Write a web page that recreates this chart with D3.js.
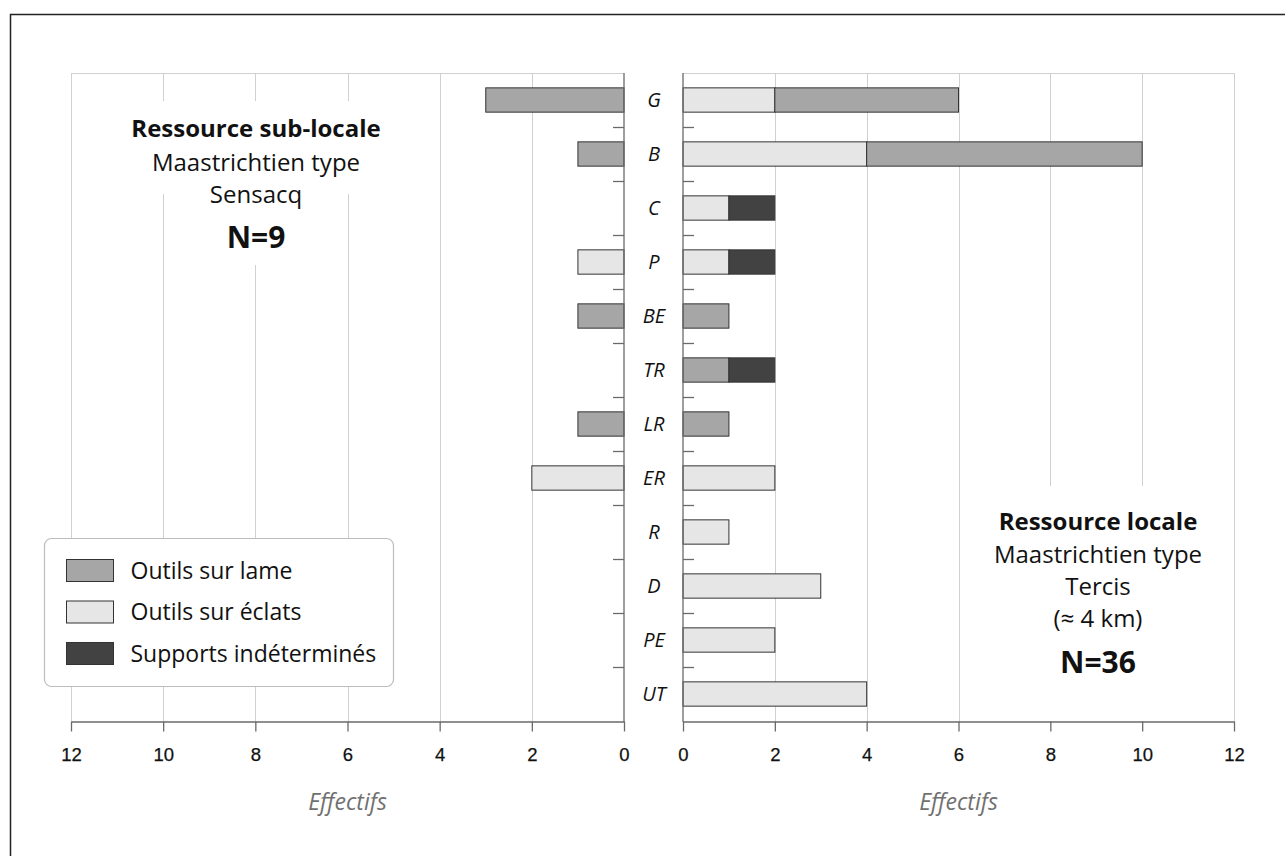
<!DOCTYPE html>
<html><head><meta charset="utf-8">
<script src="https://cdn.jsdelivr.net/npm/d3@7"></script>
<style>body{margin:0;background:#fff} svg{display:block}</style>
</head><body>
<svg id="chart" width="1285" height="856"></svg>
<script>
// ---------- DATA ----------
const categories = ["G","B","C","P","BE","TR","LR","ER","R","D","PE","UT"];
const seriesKeys = ["eclats","lame","indet"];
const seriesNames = {lame:"Outils sur lame", eclats:"Outils sur éclats", indet:"Supports indéterminés"};
const legendOrder = ["lame","eclats","indet"];
const seriesColors = {lame:"#a6a6a6", eclats:"#e6e6e6", indet:"#424242"};
// Left panel : Sensacq (sub-locale)
const leftLame   = [3,1,0,0,1,0,1,0,0,0,0,0];
const leftEclats = [0,0,0,1,0,0,0,2,0,0,0,0];
const leftIndet  = [0,0,0,0,0,0,0,0,0,0,0,0];
// Right panel : Tercis (locale)
const rightEclats = [2,4,1,1,0,0,0,2,1,3,2,4];
const rightLame   = [4,6,0,0,1,1,1,0,0,0,0,0];
const rightIndet  = [0,0,1,1,0,1,0,0,0,0,0,0];
const xTicks = [0,2,4,6,8,10,12];
const leftTitle  = ["Ressource sub-locale","Maastrichtien type","Sensacq","N=9"];
const rightTitle = ["Ressource locale","Maastrichtien type","Tercis","(≈ 4 km)","N=36"];
const axisLabel = "Effectifs";

// ---------- LAYOUT ----------
const svg = d3.select("#chart");
const W = 1285, H = 856;
const plotTop = 73, plotBottom = 721;
const font = "'Open Sans', 'Noto Sans', sans-serif";
const gridColor = "#d0d0d0", axisColor = "#6a6a6a";

const y = d3.scaleBand().domain(categories).range([plotTop, plotBottom]).paddingInner(0.55).paddingOuter(0.275);
const xL = d3.scaleLinear().domain([0,12]).range([624,71]);
const xR = d3.scaleLinear().domain([0,12]).range([683,1234]);

function rows(e,l,ind){ return categories.map((c,i)=>({cat:c, eclats:e[i], lame:l[i], indet:ind[i]})); }
const stack = d3.stack().keys(seriesKeys);
const leftStack = stack(rows(leftEclats,leftLame,leftIndet));
const rightStack = stack(rows(rightEclats,rightLame,rightIndet));

svg.append("rect").attr("width",W).attr("height",H).attr("fill","#fff");
// frame
svg.append("path").attr("d",`M10.5,${H} V14.5 H${W}`).attr("fill","none").attr("stroke","#222").attr("stroke-width",1.5);

// gridlines
[xL,xR].forEach(x=>{
  const g = svg.append("g");
  g.selectAll("line").data(xTicks.filter(t=>t>0)).join("line")
    .attr("x1",d=>Math.round(x(d))+0.5).attr("x2",d=>Math.round(x(d))+0.5)
    .attr("y1",plotTop).attr("y2",plotBottom)
    .attr("stroke",gridColor).attr("stroke-width",1);
  g.append("line").attr("x1",x(12)).attr("x2",x(0)).attr("y1",plotTop+0.5).attr("y2",plotTop+0.5)
    .attr("stroke",gridColor);
});

// ---------- ANNOTATIONS (white boxes hide gridlines) ----------
function block(lines, cx, baselines, styles){
  const g = svg.append("g");
  const boxG = g.append("g");
  const texts = lines.map((t,i)=> g.append("text").attr("x",cx).attr("y",baselines[i])
     .attr("text-anchor","middle").attr("font-family",font)
     .attr("font-size",styles[i].size).attr("font-weight",styles[i].weight)
     .attr("fill","#111").text(t));
  return {boxG, texts};
}
function unionBox(texts){
  const bb = texts.map(t=>t.node().getBBox());
  const x0=d3.min(bb,b=>b.x), x1=d3.max(bb,b=>b.x+b.width), y0=d3.min(bb,b=>b.y), y1=d3.max(bb,b=>b.y+b.height);
  return {x0,x1,y0,y1};
}
const L = block(leftTitle, 256, [137,171,203,248],
  [{size:24,weight:700},{size:24,weight:400},{size:24,weight:400},{size:30,weight:700}]);
let b1 = unionBox(L.texts.slice(0,2));
L.boxG.append("rect").attr("x",b1.x0-8).attr("y",b1.y0-10).attr("width",b1.x1-b1.x0+16).attr("height",b1.y1-b1.y0+26).attr("fill","#fff");
let b2 = unionBox(L.texts.slice(2,4));
L.boxG.append("rect").attr("x",b2.x0-8).attr("y",b2.y0).attr("width",b2.x1-b2.x0+16).attr("height",b2.y1-b2.y0+8).attr("fill","#fff");

const R = block(rightTitle, 1098, [530,563,595,627,673],
  [{size:24,weight:700},{size:24,weight:400},{size:24,weight:400},{size:24,weight:400},{size:30,weight:700}]);
let b3 = unionBox(R.texts);
R.boxG.append("rect").attr("x",b3.x0-15).attr("y",b3.y0-18).attr("width",b3.x1-b3.x0+30).attr("height",plotBottom-(b3.y0-18)).attr("fill","#fff");

// ---------- BARS ----------
svg.append("g").selectAll("g").data(leftStack).join("g")
  .attr("fill",d=>seriesColors[d.key])
  .selectAll("rect").data(d=>d.filter(v=>v[1]-v[0]>0)).join("rect")
  .attr("x",d=>xL(d[1])).attr("width",d=>xL(d[0])-xL(d[1]))
  .attr("y",d=>y(d.data.cat)).attr("height",y.bandwidth())
  .attr("stroke","#333").attr("stroke-width",1);
svg.append("g").selectAll("g").data(rightStack).join("g")
  .attr("fill",d=>seriesColors[d.key])
  .selectAll("rect").data(d=>d.filter(v=>v[1]-v[0]>0)).join("rect")
  .attr("x",d=>xR(d[0])).attr("width",d=>xR(d[1])-xR(d[0]))
  .attr("y",d=>y(d.data.cat)).attr("height",y.bandwidth())
  .attr("stroke","#333").attr("stroke-width",1);

// ---------- CATEGORY AXES ----------
const step = y.step();
const boundaries = categories.slice(1).map(c=>y(c)-(step-y.bandwidth())/2);
[[xL(0),-11],[xR(0),11]].forEach(([x0,len])=>{
  svg.append("line").attr("x1",x0).attr("x2",x0).attr("y1",plotTop).attr("y2",plotBottom+1)
    .attr("stroke",axisColor).attr("stroke-width",1.3);
  svg.append("g").selectAll("line").data(boundaries).join("line")
    .attr("x1",x0).attr("x2",x0+len).attr("y1",d=>Math.round(d)+0.5).attr("y2",d=>Math.round(d)+0.5)
    .attr("stroke",axisColor).attr("stroke-width",1.3);
});
svg.append("g").selectAll("text").data(categories).join("text")
  .attr("x",654).attr("y",d=>y(d)+y.bandwidth()/2).attr("dy","0.36em")
  .attr("text-anchor","middle").attr("font-family",font).attr("font-style","italic")
  .attr("font-size",20).attr("fill","#111").text(d=>d);

// ---------- X AXES ----------
[xL,xR].forEach(x=>{
  const g = svg.append("g").attr("transform",`translate(0,${plotBottom+0.5})`)
    .call(d3.axisBottom(x).tickValues(xTicks).tickSize(10).tickSizeOuter(0).tickPadding(16).tickFormat(d3.format("d")));
  g.select(".domain").attr("stroke",axisColor).attr("stroke-width",1.3);
  g.selectAll(".tick line").attr("stroke",axisColor).attr("stroke-width",1.3);
  g.selectAll(".tick text").attr("font-family","'Liberation Sans', Arial, sans-serif").attr("font-size",18.5)
    .attr("fill","#111").attr("stroke","#111").attr("stroke-width",0.25);
  svg.append("text").attr("x",(x(0)+x(12))/2).attr("y",810).attr("text-anchor","middle")
    .attr("font-family",font).attr("font-style","italic").attr("font-size",23)
    .attr("fill","#707070").text(axisLabel);
});

// ---------- LEGEND ----------
const lg = svg.append("g");
lg.append("rect").attr("x",44.5).attr("y",538.5).attr("width",349).attr("height",148).attr("rx",7)
  .attr("fill","#fff").attr("stroke","#bdbdbd").attr("stroke-width",1.2);
const items = lg.selectAll("g").data(legendOrder).join("g")
  .attr("transform",(d,i)=>`translate(66.5,${559.5+i*41.5})`);
items.append("rect").attr("width",47).attr("height",22).attr("fill",d=>seriesColors[d]).attr("stroke","#333");
items.append("text").attr("x",64).attr("y",11).attr("dy","0.36em").attr("font-family",font)
  .attr("font-size",23).attr("fill","#111").text(d=>seriesNames[d]);
</script>
</body></html>
